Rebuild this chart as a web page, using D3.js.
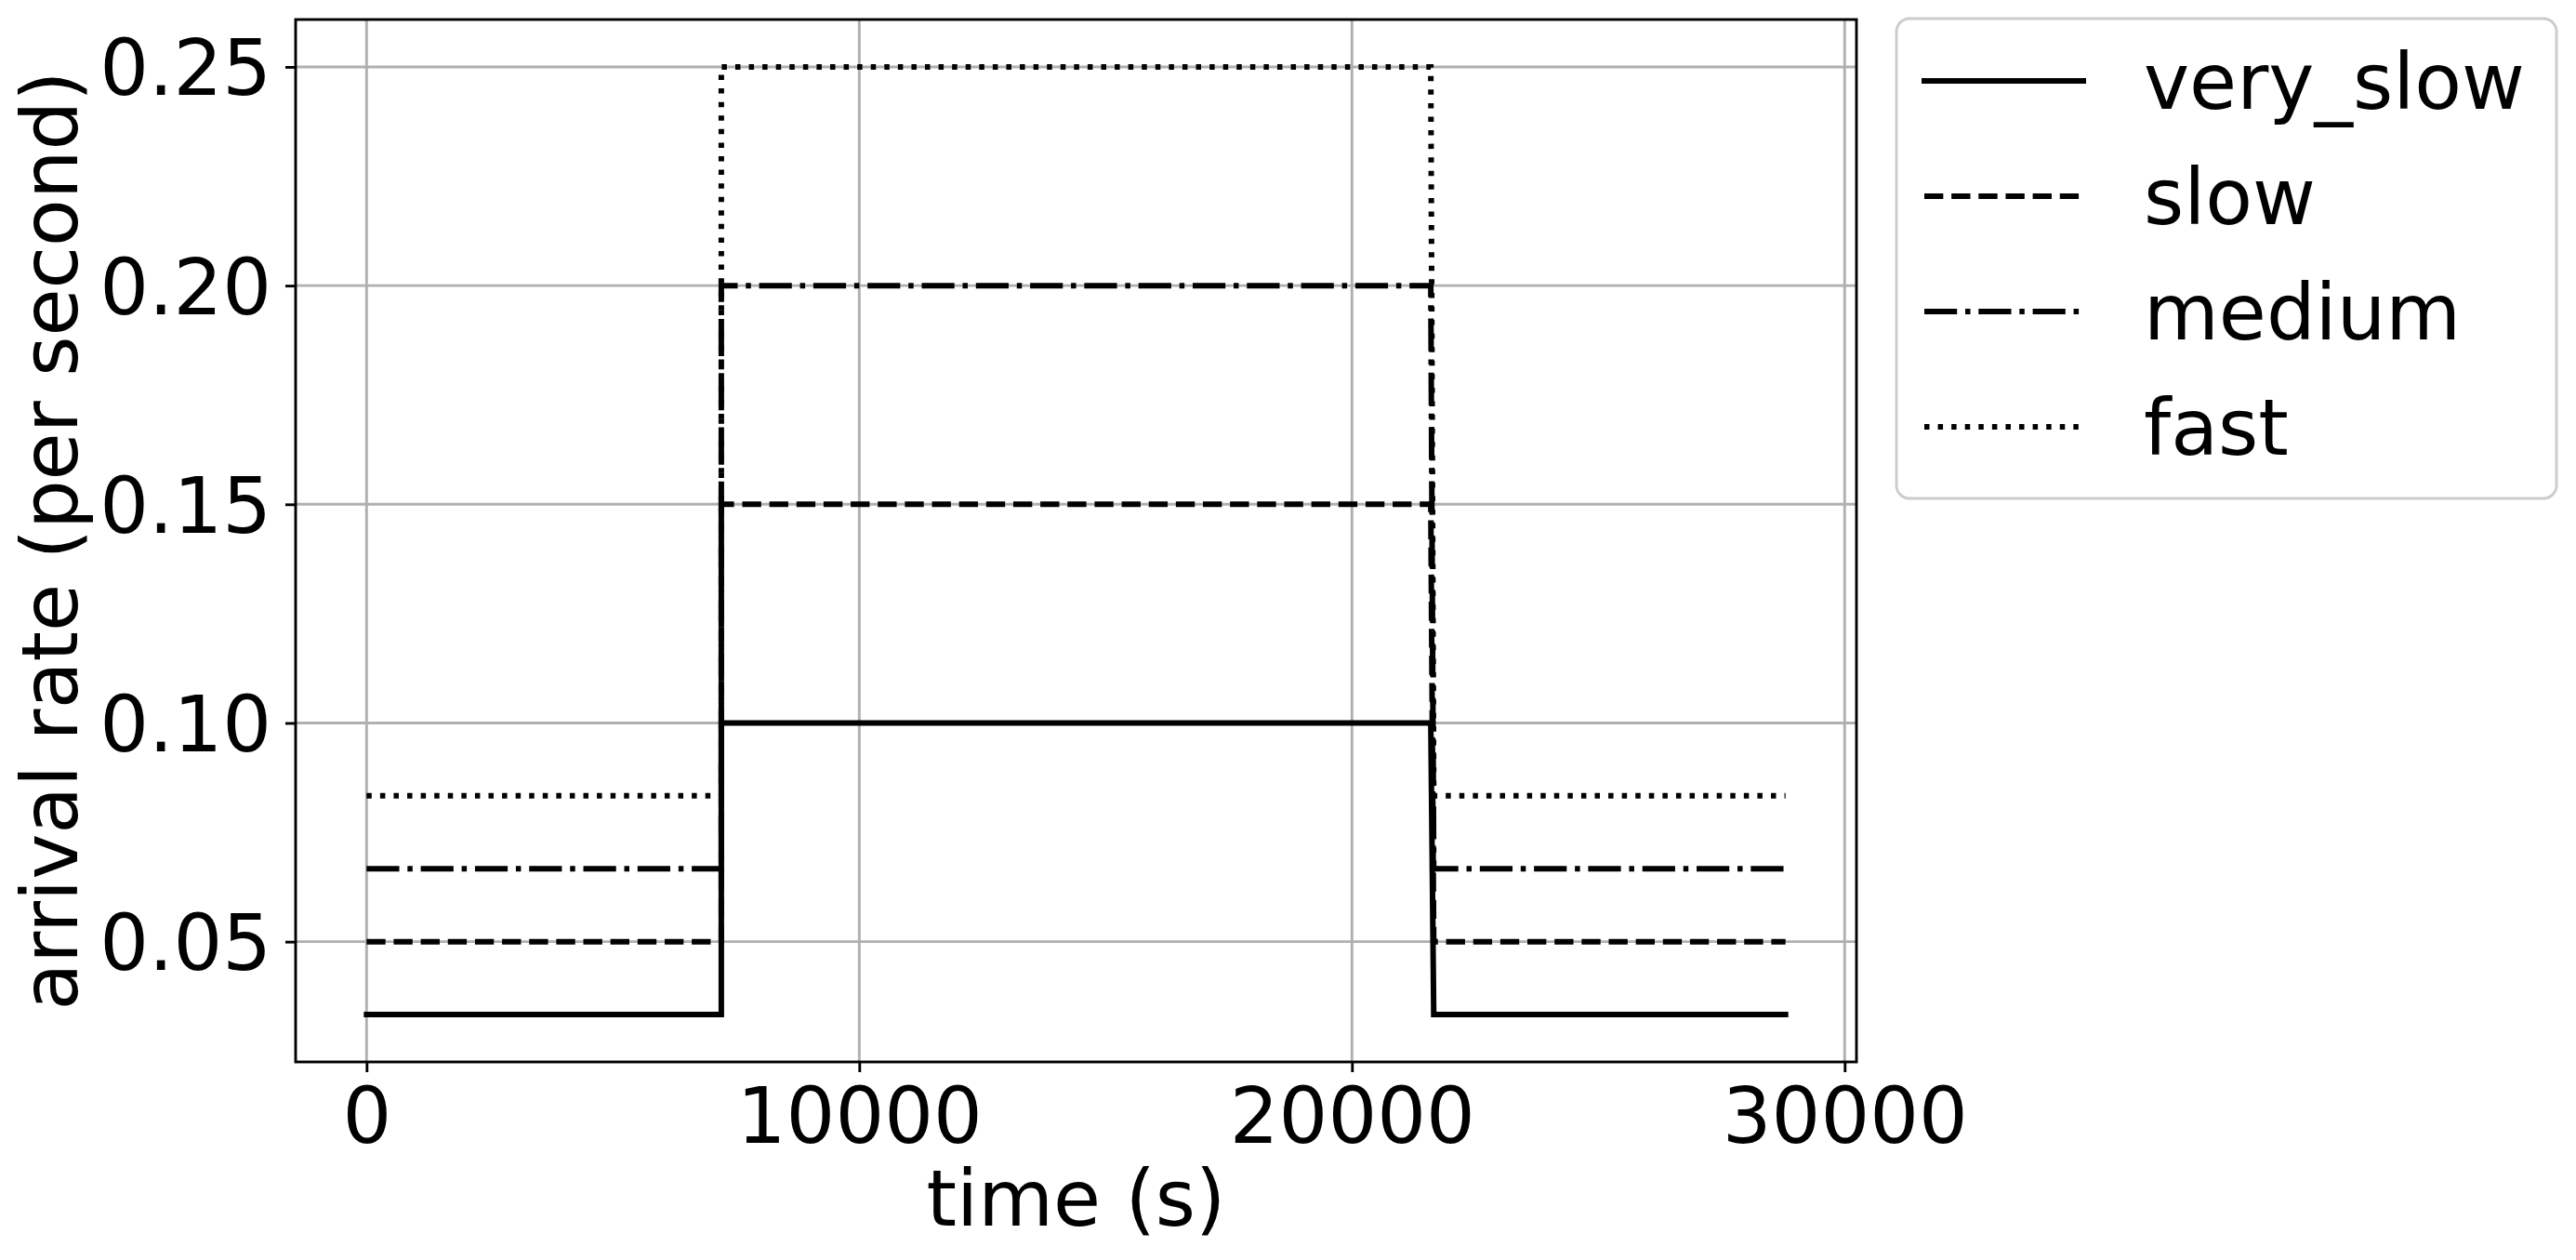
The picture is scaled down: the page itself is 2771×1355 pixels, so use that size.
<!DOCTYPE html>
<html>
<head>
<meta charset="utf-8">
<script src="https://cdn.jsdelivr.net/npm/d3@7"></script>
<style>
  html, body { margin: 0; padding: 0; background: #ffffff; }
  svg { display: block; }
  text { font-family: "DejaVu Sans", sans-serif; fill: #000; }
</style>
</head>
<body>
<svg id="chart" width="2771" height="1355"></svg>
<script>
// ---- data ----
const times = [0, 7200, 7200, 21600, 21660, 28800];
const seriesNames = ["very_slow", "slow", "medium", "fast"];
const veryslowRate = [1/30, 1/30, 0.10, 0.10, 1/30, 1/30];
const slowRate     = [0.05, 0.05, 0.15, 0.15, 0.05, 0.05];
const mediumRate   = [1/15, 1/15, 0.20, 0.20, 1/15, 1/15];
const fastRate     = [1/12, 1/12, 0.25, 0.25, 1/12, 1/12];
const xTicks = [0, 10000, 20000, 30000];
const yTicks = [0.05, 0.10, 0.15, 0.20, 0.25];
const xLabel = "time (s)";
const yLabel = "arrival rate (per second)";

// ---- styling ----
const lw = 6;
const ds = 5.5;
const dashes = {
  very_slow: null,
  slow: [3.7 * ds, 1.6 * ds],
  medium: [6.4 * ds, 1.6 * ds, 1 * ds, 1.6 * ds],
  fast: [1 * ds, 1.65 * ds]
};
const fs = 83;
const spineW = 2.9;
const tickLen = 11;

const plot = { left: 318, right: 1997, top: 21, bottom: 1142 };

const svg = d3.select("#chart");

const x = d3.scaleLinear().domain([-1440, 30240]).range([plot.left, plot.right]);
const y = d3.scaleLinear().domain([0.0225, 0.2608333]).range([plot.bottom, plot.top]);

// grid
const grid = svg.append("g");
grid.selectAll("line.gx").data(xTicks).join("line")
  .attr("x1", d => x(d)).attr("x2", d => x(d))
  .attr("y1", plot.top).attr("y2", plot.bottom)
  .attr("stroke", "#b0b0b0").attr("stroke-width", spineW);
grid.selectAll("line.gy").data(yTicks).join("line")
  .attr("y1", d => y(d)).attr("y2", d => y(d))
  .attr("x1", plot.left).attr("x2", plot.right)
  .attr("stroke", "#b0b0b0").attr("stroke-width", spineW);

// lines
const series = [
  { name: "very_slow", values: veryslowRate },
  { name: "slow", values: slowRate },
  { name: "medium", values: mediumRate },
  { name: "fast", values: fastRate }
];
const line = d3.line().x(d => x(d[0])).y(d => y(d[1]));
svg.append("g").selectAll("path").data(series).join("path")
  .attr("d", s => line(times.map((t, i) => [t, s.values[i]])))
  .attr("fill", "none")
  .attr("stroke", "#000")
  .attr("stroke-width", lw)
  .attr("stroke-linejoin", "miter")
  .attr("stroke-linecap", s => dashes[s.name] ? "butt" : "square")
  .attr("stroke-dasharray", s => dashes[s.name] ? dashes[s.name].join(",") : null);

// axes
const xAxis = svg.append("g").attr("transform", `translate(0,${plot.bottom})`)
  .call(d3.axisBottom(x).tickValues(xTicks).tickFormat(d3.format("d"))
    .tickSizeInner(tickLen).tickSizeOuter(0).tickPadding(tickLen));
xAxis.select(".domain").remove();
xAxis.selectAll(".tick line").attr("stroke", "#000").attr("stroke-width", spineW);
xAxis.selectAll(".tick text").attr("font-size", fs).attr("font-family", "DejaVu Sans")
  .attr("dy", null).attr("y", 87).attr("fill", "#000");

const yAxis = svg.append("g").attr("transform", `translate(${plot.left},0)`)
  .call(d3.axisLeft(y).tickValues(yTicks).tickFormat(d3.format(".2f"))
    .tickSizeInner(tickLen).tickSizeOuter(0).tickPadding(tickLen));
yAxis.select(".domain").remove();
yAxis.selectAll(".tick line").attr("stroke", "#000").attr("stroke-width", spineW);
yAxis.selectAll(".tick text").attr("font-size", fs).attr("font-family", "DejaVu Sans")
  .attr("dy", "0.36em").attr("x", -26).attr("fill", "#000");

// spines
svg.append("rect")
  .attr("x", plot.left).attr("y", plot.top)
  .attr("width", plot.right - plot.left).attr("height", plot.bottom - plot.top)
  .attr("fill", "none").attr("stroke", "#000").attr("stroke-width", spineW);

// axis labels
svg.append("text")
  .attr("x", (plot.left + plot.right) / 2).attr("y", 1318)
  .attr("text-anchor", "middle").attr("font-size", fs)
  .text(xLabel);
svg.append("text")
  .attr("transform", `translate(83,${(plot.top + plot.bottom) / 2}) rotate(-90)`)
  .attr("text-anchor", "middle").attr("font-size", fs)
  .text(yLabel);

// legend
const leg = svg.append("g");
leg.append("rect")
  .attr("x", 2040).attr("y", 20).attr("width", 710).attr("height", 516)
  .attr("rx", 14).attr("ry", 14)
  .attr("fill", "#fff").attr("fill-opacity", 0.8)
  .attr("stroke", "#cccccc").attr("stroke-width", spineW);
const rowY = d3.scaleLinear().domain([0, 3]).range([87, 459]);
const items = leg.selectAll("g.item").data(seriesNames).join("g");
items.append("line")
  .attr("x1", 2070).attr("x2", 2241)
  .attr("y1", (d, i) => rowY(i)).attr("y2", (d, i) => rowY(i))
  .attr("stroke", "#000").attr("stroke-width", lw)
  .attr("stroke-linecap", d => dashes[d] ? "butt" : "square")
  .attr("stroke-dasharray", d => dashes[d] ? dashes[d].join(",") : null);
items.append("text")
  .attr("x", 2306).attr("y", (d, i) => rowY(i))
  .attr("dy", "0.36em").attr("font-size", fs)
  .text(d => d);
</script>
</body>
</html>
